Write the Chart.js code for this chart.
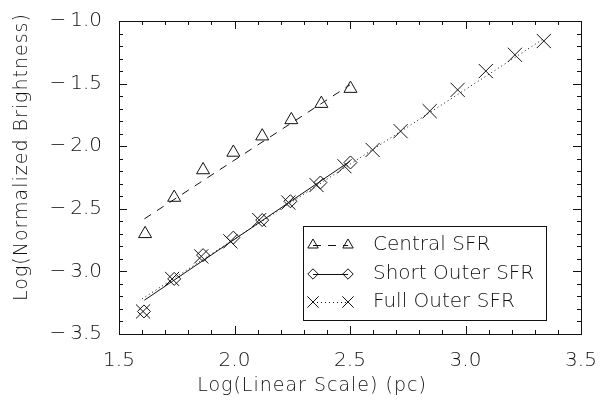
<!DOCTYPE html>
<html>
<head>
<meta charset="utf-8">
<script src="https://cdn.jsdelivr.net/npm/chart.js@4/dist/chart.umd.min.js"></script>
<style>
  html, body { margin: 0; padding: 0; background: #fff; }
  #wrap { width: 610px; height: 404px; }
</style>
</head>
<body>
<div id="wrap"><canvas id="sfrChart"></canvas></div>
<script>
// values (log scale in pc, log normalized brightness)
const centralX = [1.613, 1.739, 1.864, 1.995, 2.120, 2.246, 2.376, 2.502];
const centralY = [-2.70, -2.41, -2.19, -2.05, -1.92, -1.79, -1.66, -1.54];
const centralFitX = [1.61, 2.50];
const centralFitY = [-2.58, -1.51];

const shortX = [1.608, 1.739, 1.864, 1.995, 2.120, 2.242, 2.372, 2.502];
const shortY = [-3.32, -3.06, -2.87, -2.73, -2.59, -2.44, -2.29, -2.13];
const shortFitX = [1.61, 2.50];
const shortFitY = [-3.23, -2.12];

const fullX = [1.604, 1.730, 1.856, 1.982, 2.107, 2.233, 2.355, 2.476,
               2.598, 2.719, 2.845, 2.966, 3.088, 3.214, 3.339];
const fullY = [-3.32, -3.06, -2.88, -2.76, -2.59, -2.45, -2.31, -2.16,
               -2.03, -1.88, -1.72, -1.55, -1.40, -1.27, -1.16];
const fullFitX = [1.60, 3.34];
const fullFitY = [-3.22, -1.14];

const xTicks = [1.5, 2.0, 2.5, 3.0, 3.5];
const yTicks = [-3.5, -3.0, -2.5, -2.0, -1.5, -1.0];

const seriesNames = ["Central SFR", "Short Outer SFR", "Full Outer SFR"];
const xTitle = "Log(Linear Scale) (pc)";
const yTitle = "Log(Normalized Brightness)";

const ink = "#111";
const family = "'DejaVu Sans', 'Liberation Sans', sans-serif";

const pts = (xs, ys) => xs.map((x, i) => ({ x: x, y: ys[i] }));

const markerStyle = (style, radius) => ({
  showLine: false,
  pointStyle: style,
  pointRadius: radius,
  pointBorderWidth: 1,
  pointBorderColor: ink,
  pointBackgroundColor: "rgba(0,0,0,0)",
  borderColor: ink
});

const fitStyle = (dash) => ({
  showLine: true,
  pointRadius: 0,
  borderWidth: 1,
  borderColor: ink,
  borderDash: dash
});

const ds = [
  Object.assign({ label: "cfit", data: pts(centralFitX, centralFitY) }, fitStyle([8, 7])),
  Object.assign({ label: "sfit", data: pts(shortFitX, shortFitY) }, fitStyle([])),
  Object.assign({ label: "ffit", data: pts(fullFitX, fullFitY) }, fitStyle([1, 3])),
  Object.assign({ label: seriesNames[0], data: pts(centralX, centralY) }, markerStyle("triangle", 7.5)),
  Object.assign({ label: seriesNames[1], data: pts(shortX, shortY) }, markerStyle("rectRot", 6.5)),
  Object.assign({ label: seriesNames[2], data: pts(fullX, fullY) }, markerStyle("crossRot", 10))
];

// box round the plot with inward ticks on all four sides, plus axis titles
const frame = {
  id: "frame",
  afterDatasetsDraw(chart) {
    const { ctx, chartArea: a, scales } = chart;
    const xs = scales.x, ys = scales.y;
    ctx.save();
    ctx.strokeStyle = ink;
    ctx.lineWidth = 1;
    ctx.strokeRect(a.left + 0.5, a.top + 0.5, a.right - a.left, a.bottom - a.top);
    ctx.beginPath();
    for (let v = 15; v <= 35; v++) {
      const px = Math.round(xs.getPixelForValue(v / 10)) + 0.5;
      const len = v % 5 === 0 ? 8 : 4;
      ctx.moveTo(px, a.bottom); ctx.lineTo(px, a.bottom - len);
      ctx.moveTo(px, a.top); ctx.lineTo(px, a.top + len);
    }
    for (let v = -35; v <= -10; v++) {
      const py = Math.round(ys.getPixelForValue(v / 10)) + 0.5;
      const len = v % 5 === 0 ? 8 : 4;
      ctx.moveTo(a.left, py); ctx.lineTo(a.left + len, py);
      ctx.moveTo(a.right, py); ctx.lineTo(a.right - len, py);
    }
    ctx.stroke();

    ctx.fillStyle = ink;
    ctx.font = "200 19px " + family;
    ctx.textAlign = "center";
    ctx.textBaseline = "middle";
    ctx.letterSpacing = "1px";
    ctx.fillText(xTitle, 312, 386);
    ctx.translate(22, 157);
    ctx.rotate(-Math.PI / 2);
    ctx.fillText(yTitle, 0, 0);
    ctx.restore();
  }
};

// legend box: marker - line - marker, then name
const legendBox = {
  id: "legendBox",
  afterDraw(chart) {
    const ctx = chart.ctx;
    const bx = 303, by = 226, bw = 243, bh = 94;
    const rows = [245, 274, 302];
    ctx.save();
    ctx.strokeStyle = ink;
    ctx.lineWidth = 1;
    ctx.strokeRect(bx + 0.5, by + 0.5, bw, bh);
    for (let i = 0; i < 3; i++) {
      const line = chart.data.datasets[i];
      const mark = chart.data.datasets[i + 3];
      const y = rows[i];
      ctx.setLineDash(line.borderDash);
      ctx.beginPath();
      ctx.moveTo(313, y + 0.5);
      ctx.lineTo(348, y + 0.5);
      ctx.stroke();
      ctx.setLineDash([]);
      ctx.fillStyle = "rgba(0,0,0,0)";
      [313, 348].forEach(x => {
        Chart.helpers.drawPoint(ctx, {
          pointStyle: mark.pointStyle,
          radius: mark.pointRadius * 0.8,
          borderWidth: 1
        }, x, y);
      });
      ctx.fillStyle = ink;
      ctx.font = "200 20px " + family;
      ctx.textAlign = "left";
      ctx.textBaseline = "middle";
      ctx.fillText(mark.label, 373, y);
    }
    ctx.restore();
  }
};

new Chart(document.getElementById("sfrChart"), {
  type: "scatter",
  data: { datasets: ds },
  plugins: [frame, legendBox],
  options: {
    responsive: true,
    maintainAspectRatio: false,
    animation: false,
    layout: { padding: { top: 8, right: 29, left: 0, bottom: 0 } },
    plugins: { legend: { display: false }, tooltip: { enabled: false } },
    scales: {
      x: {
        type: "linear",
        min: 1.5,
        max: 3.5,
        afterBuildTicks: s => { s.ticks = xTicks.map(v => ({ value: v })); },
        afterFit: s => { s.height = 70; },
        grid: { display: false },
        border: { display: false },
        ticks: {
          padding: 7,
          color: ink,
          font: { family: family, size: 20, weight: 200 },
          callback: v => Number(v).toFixed(1)
        }
      },
      y: {
        type: "linear",
        min: -3.5,
        max: -1.0,
        afterBuildTicks: s => { s.ticks = yTicks.map(v => ({ value: v })); },
        afterFit: s => { s.width = 119; },
        grid: { display: false },
        border: { display: false },
        ticks: {
          padding: 9,
          color: ink,
          font: { family: family, size: 20, weight: 200 },
          callback: v => "\u2212\u2009" + Math.abs(v).toFixed(1)
        }
      }
    }
  }
});
</script>
</body>
</html>
